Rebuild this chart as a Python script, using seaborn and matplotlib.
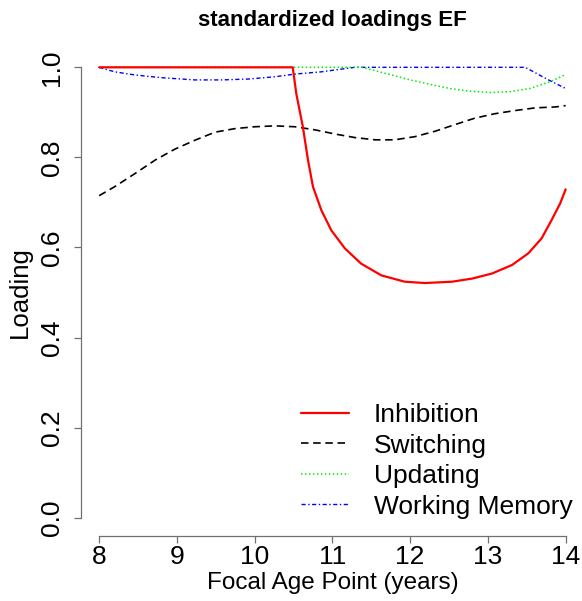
import matplotlib
matplotlib.use("Agg")
import matplotlib.pyplot as plt
import seaborn as sns
import pandas as pd
from matplotlib.lines import Line2D

# ---- data ----
inhib_x = [8.0, 10.49, 10.535, 10.62, 10.686, 10.75, 10.857, 10.986, 11.16, 11.37,
           11.63, 11.93, 12.19, 12.54, 12.80, 13.05, 13.31, 13.52, 13.69, 13.82,
           13.93, 14.0]
inhib_y = [1.0, 1.0, 0.942, 0.868, 0.794, 0.735, 0.683, 0.638, 0.598, 0.564,
           0.538, 0.524, 0.521, 0.524, 0.531, 0.542, 0.561, 0.587, 0.620, 0.661,
           0.698, 0.729]

switch_x = [8.0, 8.20, 8.46, 8.72, 8.97, 9.23, 9.49, 9.75, 10.0, 10.26, 10.52, 10.78,
            11.03, 11.29, 11.55, 11.80, 12.06, 12.32, 12.58, 12.83, 13.09, 13.35,
            13.61, 13.87, 14.0]
switch_y = [0.715, 0.735, 0.764, 0.794, 0.818, 0.838, 0.856, 0.864, 0.868, 0.870,
            0.868, 0.861, 0.852, 0.844, 0.839, 0.839, 0.846, 0.858, 0.873, 0.887,
            0.897, 0.904, 0.910, 0.912, 0.915]

update_x = [8.0, 11.38, 11.74, 12.0, 12.26, 12.51, 12.77, 13.03, 13.29, 13.54,
            13.80, 14.0]
update_y = [1.0, 1.0, 0.984, 0.972, 0.962, 0.953, 0.947, 0.944, 0.946, 0.953,
            0.968, 0.984]

wm_x = [8.0, 8.20, 8.46, 8.80, 9.23, 9.58, 9.92, 10.26, 10.52, 10.86, 11.03, 11.29,
        13.48, 13.78, 14.0]
wm_y = [1.0, 0.990, 0.983, 0.977, 0.972, 0.972, 0.974, 0.979, 0.985, 0.990, 0.994,
        1.0, 1.0, 0.972, 0.953]

series_names = ["Inhibition", "Switching", "Updating", "Working Memory"]
x_ticks = [8, 9, 10, 11, 12, 13, 14]
y_ticks = [0.0, 0.2, 0.4, 0.6, 0.8, 1.0]
y_tick_labels = ["0.0", "0.2", "0.4", "0.6", "0.8", "1.0"]

# ---- styling ----
sns.set_style("white")
plt.rcParams["font.family"] = ["Liberation Sans", "DejaVu Sans"]
plt.rcParams["text.color"] = "black"
plt.rcParams["axes.labelcolor"] = "black"
plt.rcParams["xtick.color"] = "black"
plt.rcParams["ytick.color"] = "black"

W, H = 582, 601
fig = plt.figure(figsize=(W / 100, H / 100), dpi=100)
ax = fig.add_axes([80.5 / W, (H - 535.7) / H, (584.3 - 80.5) / W, (535.7 - 49.3) / H])

styles = {
    "Inhibition": dict(color="#FF0000", lw=1.6, ls="-"),
    "Switching": dict(color="#000000", lw=1.2, ls=(0, (4.5, 2.8))),
    "Updating": dict(color="#00EE00", lw=1.1, ls=(0, (1, 1.6))),
    "Working Memory": dict(color="#0000FF", lw=1.0, ls=(0, (3, 1.8, 1, 1.8))),
}
data = {
    "Inhibition": (inhib_x, inhib_y),
    "Switching": (switch_x, switch_y),
    "Updating": (update_x, update_y),
    "Working Memory": (wm_x, wm_y),
}

for name in ["Working Memory", "Updating", "Switching", "Inhibition"]:
    xs, ys = data[name]
    df = pd.DataFrame({"x": xs, "y": ys})
    st = styles[name]
    sns.lineplot(data=df, x="x", y="y", ax=ax, sort=False, estimator=None,
                 color=st["color"], linewidth=st["lw"], linestyle=st["ls"])

ax.set_xlim(7.76, 14.24)
ax.set_ylim(-0.04, 1.04)

for s in ["top", "right"]:
    ax.spines[s].set_visible(False)
for s in ["left", "bottom"]:
    ax.spines[s].set_color("#707070")
    ax.spines[s].set_linewidth(0.9)
ax.spines["left"].set_bounds(0, 1)
ax.spines["bottom"].set_bounds(8, 14)

ax.set_xticks(x_ticks)
ax.set_xticklabels([str(t) for t in x_ticks])
ax.set_yticks(y_ticks)
ax.set_yticklabels(y_tick_labels, rotation=90, va="center")
ax.tick_params(axis="both", which="major", bottom=True, left=True, direction="out",
               length=5, width=0.9, color="#707070", labelsize=19, labelcolor="black")
ax.tick_params(axis="x", pad=1.5)
ax.tick_params(axis="y", pad=7)

ax.set_xlabel("Focal Age Point (years)", fontsize=17.5, labelpad=2, color="black")
ax.set_ylabel("Loading", fontsize=18.5, labelpad=6, color="black")
ax.set_title("standardized loadings EF", fontsize=16, fontweight="bold", pad=17,
             color="black")

handles = [Line2D([], [], color=styles[n]["color"], lw=styles[n]["lw"], ls=styles[n]["ls"])
           for n in series_names]
leg = ax.legend(handles, series_names, loc="upper left", frameon=False, fontsize=19,
                bbox_to_anchor=((293 - 80.5) / (584.3 - 80.5), (535.7 - 395) / (535.7 - 49.3)),
                handlelength=1.82, handletextpad=0.95, labelspacing=0.25, borderaxespad=0,
                borderpad=0.3)
for t in leg.get_texts():
    t.set_color("black")

fig.savefig("out.png", dpi=100)
